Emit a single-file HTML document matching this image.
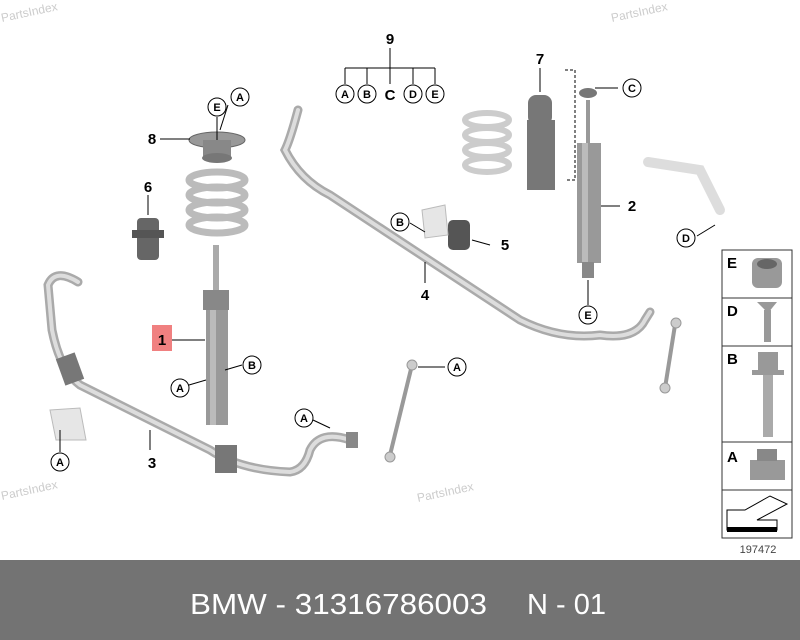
<!DOCTYPE html>
<html><head><style>
html,body{margin:0;padding:0;width:800px;height:640px;overflow:hidden;background:#fff;font-family:"Liberation Sans",sans-serif}
</style></head><body>
<svg width="800" height="640" viewBox="0 0 800 640" xmlns="http://www.w3.org/2000/svg" font-family="Liberation Sans, sans-serif">
<rect width="800" height="640" fill="#fff"/>
<g fill="#ccc" font-size="12">
<text x="2" y="22" transform="rotate(-12 2 22)">PartsIndex</text>
<text x="612" y="22" transform="rotate(-12 612 22)">PartsIndex</text>
<text x="2" y="500" transform="rotate(-12 2 500)">PartsIndex</text>
<text x="418" y="502" transform="rotate(-12 418 502)">PartsIndex</text>
</g>
<path d="M78 282 Q55 268 48 285 L52 330 Q60 370 80 385 L210 450 Q240 470 290 472 Q305 470 310 450 Q320 430 350 440" fill="none" stroke="#aaa" stroke-width="9" stroke-linecap="round"/>
<path d="M78 282 Q55 268 48 285 L52 330 Q60 370 80 385 L210 450 Q240 470 290 472 Q305 470 310 450 Q320 430 350 440" fill="none" stroke="#ddd" stroke-width="4" stroke-linecap="round"/>
<rect x="60" y="355" width="20" height="28" fill="#777" transform="rotate(-20 70 369)"/>
<rect x="215" y="445" width="22" height="28" fill="#777"/>
<rect x="346" y="432" width="12" height="16" fill="#888"/>
<path d="M50 410 L80 408 L86 440 L56 440 Z" fill="#e6e6e6" stroke="#bbb"/>
<line x1="412" y1="365" x2="390" y2="455" stroke="#999" stroke-width="4"/>
<circle cx="412" cy="365" r="5" fill="#ccc" stroke="#999"/>
<circle cx="390" cy="457" r="5" fill="#ccc" stroke="#999"/>
<path d="M298 110 Q290 140 285 150 Q300 180 330 195 L520 320 Q560 340 600 335 Q635 340 645 320 L650 312" fill="none" stroke="#aaa" stroke-width="9" stroke-linecap="round"/>
<path d="M298 110 Q290 140 285 150 Q300 180 330 195 L520 320 Q560 340 600 335 Q635 340 645 320 L650 312" fill="none" stroke="#ddd" stroke-width="4" stroke-linecap="round"/>
<rect x="448" y="220" width="22" height="30" rx="5" fill="#555"/>
<path d="M422 210 L445 205 L448 235 L425 238 Z" fill="#e6e6e6" stroke="#bbb"/>
<line x1="675" y1="325" x2="665" y2="388" stroke="#999" stroke-width="4"/>
<circle cx="676" cy="323" r="5" fill="#ccc" stroke="#999"/>
<circle cx="665" cy="388" r="5" fill="#ccc" stroke="#999"/>
<g fill="none" stroke="#bbb" stroke-width="7">
<ellipse cx="217" cy="180" rx="28" ry="8"/><ellipse cx="217" cy="195" rx="28" ry="8"/><ellipse cx="217" cy="210" rx="28" ry="8"/><ellipse cx="217" cy="225" rx="28" ry="8"/>
</g>
<ellipse cx="487" cy="120" rx="22" ry="7" fill="none" stroke="#ccc" stroke-width="6"/>
<ellipse cx="487" cy="135" rx="22" ry="7" fill="none" stroke="#ccc" stroke-width="6"/>
<ellipse cx="487" cy="150" rx="22" ry="7" fill="none" stroke="#ccc" stroke-width="6"/>
<ellipse cx="487" cy="165" rx="22" ry="7" fill="none" stroke="#ccc" stroke-width="6"/>
<ellipse cx="217" cy="140" rx="28" ry="8" fill="#999" stroke="#666"/>
<rect x="203" y="140" width="28" height="18" fill="#888"/>
<ellipse cx="217" cy="158" rx="15" ry="5" fill="#777"/>
<rect x="137" y="218" width="22" height="42" rx="4" fill="#666"/>
<rect x="132" y="230" width="32" height="8" fill="#555"/>
<rect x="213" y="245" width="6" height="50" fill="#aaa"/>
<rect x="203" y="290" width="26" height="20" fill="#888"/>
<rect x="206" y="310" width="22" height="115" fill="#999"/>
<rect x="210" y="310" width="6" height="115" fill="#bbb"/>
<rect x="528" y="95" width="24" height="30" rx="8" fill="#777"/>
<rect x="527" y="120" width="28" height="70" fill="#777"/>
<line x1="588" y1="100" x2="588" y2="145" stroke="#999" stroke-width="4"/>
<ellipse cx="588" cy="93" rx="9" ry="5" fill="#777"/>
<rect x="577" y="143" width="24" height="120" fill="#999"/>
<rect x="582" y="143" width="6" height="120" fill="#bbb"/>
<rect x="582" y="262" width="12" height="16" fill="#888"/>
<path d="M565 70 L575 70 L575 180 L565 180" fill="none" stroke="#000" stroke-dasharray="3 2"/>
<path d="M648 162 L700 170 L720 210" fill="none" stroke="#ddd" stroke-width="10" stroke-linecap="round"/>
<g stroke="#000" stroke-width="1" fill="none">
<line x1="160" y1="139" x2="190" y2="139"/>
<line x1="217" y1="117" x2="217" y2="140"/>
<line x1="228" y1="105" x2="220" y2="130"/>
<line x1="148" y1="195" x2="148" y2="215"/>
<line x1="172" y1="340" x2="205" y2="340"/>
<line x1="242" y1="365" x2="225" y2="370"/>
<line x1="189" y1="385" x2="206" y2="380"/>
<line x1="150" y1="450" x2="150" y2="430"/>
<line x1="60" y1="452" x2="60" y2="430"/>
<line x1="445" y1="367" x2="418" y2="367"/>
<line x1="313" y1="420" x2="330" y2="428"/>
<line x1="425" y1="283" x2="425" y2="262"/>
<line x1="410" y1="223" x2="425" y2="232"/>
<line x1="490" y1="245" x2="472" y2="240"/>
<line x1="540" y1="68" x2="540" y2="92"/>
<line x1="618" y1="88" x2="595" y2="88"/>
<line x1="620" y1="206" x2="601" y2="206"/>
<line x1="588" y1="305" x2="588" y2="280"/>
<line x1="697" y1="236" x2="715" y2="225"/>
<line x1="390" y1="48" x2="390" y2="68"/>
<line x1="345" y1="68" x2="435" y2="68"/>
<line x1="345" y1="68" x2="345" y2="84"/><line x1="367" y1="68" x2="367" y2="84"/><line x1="390" y1="68" x2="390" y2="84"/><line x1="413" y1="68" x2="413" y2="84"/><line x1="435" y1="68" x2="435" y2="84"/>
</g>
<g font-size="15" font-weight="bold" fill="#000" text-anchor="middle">
<text x="390" y="44">9</text><text x="390" y="100">C</text>
<text x="540" y="64">7</text><text x="152" y="144">8</text><text x="148" y="192">6</text>
<text x="632" y="211">2</text><text x="505" y="250">5</text><text x="425" y="300">4</text>
<text x="152" y="468">3</text>
</g>
<rect x="152" y="325" width="20" height="26" fill="#f08080"/>
<text x="162" y="345" font-size="15" font-weight="bold" text-anchor="middle">1</text>
<g font-size="11" font-weight="bold" text-anchor="middle">
<g fill="#fff" stroke="#000">
<circle cx="345" cy="94" r="9"/><circle cx="367" cy="94" r="9"/><circle cx="413" cy="94" r="9"/><circle cx="435" cy="94" r="9"/>
<circle cx="217" cy="107" r="9"/><circle cx="240" cy="97" r="9"/>
<circle cx="632" cy="88" r="9"/><circle cx="252" cy="365" r="9"/><circle cx="180" cy="388" r="9"/>
<circle cx="60" cy="462" r="9"/><circle cx="304" cy="418" r="9"/><circle cx="457" cy="367" r="9"/>
<circle cx="400" cy="222" r="9"/><circle cx="588" cy="315" r="9"/><circle cx="686" cy="238" r="9"/>
</g>
<text x="345" y="98">A</text><text x="367" y="98">B</text><text x="413" y="98">D</text><text x="435" y="98">E</text>
<text x="217" y="111">E</text><text x="240" y="101">A</text>
<text x="632" y="92">C</text><text x="252" y="369">B</text><text x="180" y="392">A</text>
<text x="60" y="466">A</text><text x="304" y="422">A</text><text x="457" y="371">A</text>
<text x="400" y="226">B</text><text x="588" y="319">E</text><text x="686" y="242">D</text>
</g>
<g fill="#fff" stroke="#333">
<rect x="722" y="250" width="70" height="48"/><rect x="722" y="298" width="70" height="48"/>
<rect x="722" y="346" width="70" height="96"/><rect x="722" y="442" width="70" height="48"/>
<rect x="722" y="490" width="70" height="48"/>
</g>
<g font-size="15" font-weight="bold">
<text x="727" y="268">E</text><text x="727" y="316">D</text><text x="727" y="364">B</text><text x="727" y="462">A</text>
</g>
<rect x="752" y="258" width="30" height="30" rx="6" fill="#999"/><ellipse cx="767" cy="264" rx="10" ry="5" fill="#666"/>
<path d="M757 302 L777 302 L768 313 Z" fill="#999"/><rect x="764" y="310" width="7" height="32" fill="#999"/>
<rect x="758" y="352" width="20" height="20" fill="#999"/><rect x="752" y="370" width="32" height="5" fill="#999"/><rect x="763" y="375" width="10" height="62" fill="#aaa"/>
<path d="M750 460 L785 460 L785 480 L750 480 Z" fill="#999"/><rect x="757" y="449" width="20" height="12" fill="#888"/>
<path d="M727 510 L727 530 L777 530 L777 520 L757 520 L787 504 L770 496 L745 510 Z" fill="#fff" stroke="#000"/>
<rect x="727" y="527" width="50" height="5" fill="#000"/>
<text x="758" y="553" font-size="11" fill="#444" text-anchor="middle">197472</text>
<rect x="0" y="560" width="800" height="80" fill="#737373"/>
<text x="190" y="614" font-size="29" fill="#fff" textLength="297" lengthAdjust="spacingAndGlyphs">BMW - 31316786003</text>
<text x="527" y="614" font-size="29" fill="#fff" textLength="79" lengthAdjust="spacingAndGlyphs">N - 01</text>
</svg>
</body></html>
